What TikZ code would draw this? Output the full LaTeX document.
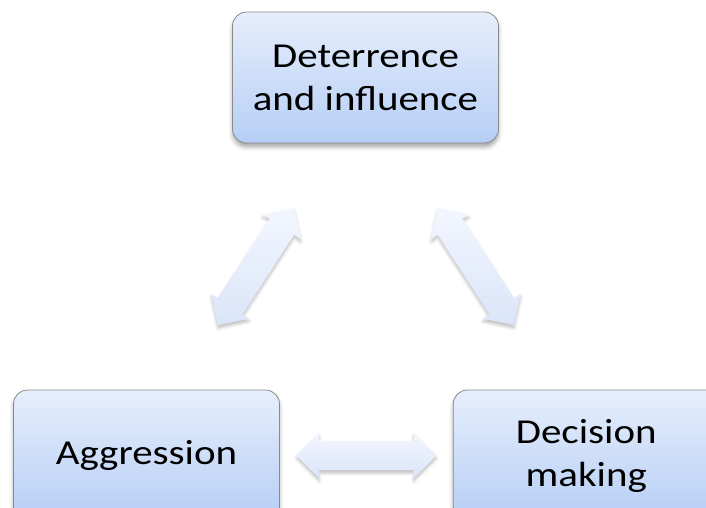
\documentclass[tikz,border=0pt]{standalone}
\usepackage{fontspec}
\setmainfont{Carlito}
\newfontfamily\boxfont{Carlito}[FakeStretch=1.17]
\usetikzlibrary{positioning,calc,shapes.arrows,shadows.blur}
\definecolor{BoxTop}{HTML}{E6EEFC}
\definecolor{BoxBot}{HTML}{B6CEF5}
\definecolor{Edge}{HTML}{8A8A8A}
\definecolor{ArrTop}{HTML}{F3F6FE}
\definecolor{ArrBot}{HTML}{DAE5F9}

\begin{document}
\begin{tikzpicture}[
    x=1pt,y=1pt,
    box/.style={rounded corners=14pt,draw=Edge,line width=0.8pt,top color=BoxTop,bottom color=BoxBot,
      minimum width=266pt,minimum height=131pt,align=center,font=\boxfont\fontsize{35}{43}\selectfont,
      blur shadow={shadow xshift=0pt,shadow yshift=-4pt,shadow blur radius=4pt,shadow opacity=35}},
    dblarr/.style={double arrow,double arrow head extend=8pt,inner xsep=0pt,inner ysep=14.5pt,
      minimum width=45pt,minimum height=140pt,top color=ArrTop,bottom color=ArrBot,draw=none,
      blur shadow={shadow xshift=0pt,shadow yshift=-3pt,shadow blur radius=3pt,shadow opacity=25}}
  ]
  \useasboundingbox (0,0) rectangle (706,-508);
  % the three boxes
  \node[box] (agg) at (146.5,-455.5) {Aggression};
  \node[box,right=173pt of agg] (dec) {Decision\\making};
  \node[box] (deter) at (365.5,-77.5) {Deterrence\\and influence};
  % block arrows between them
  \node[dblarr,rotate=57] (aggdeter) at ($(agg)!0.5!(deter)$) {};
  \node[dblarr,rotate=-57] (deterdec) at ($(deter)!0.5!(dec)$) {};
  \node[dblarr] (aggdec) at ($(agg)!0.5!(dec)$) {};
\end{tikzpicture}
\end{document}
